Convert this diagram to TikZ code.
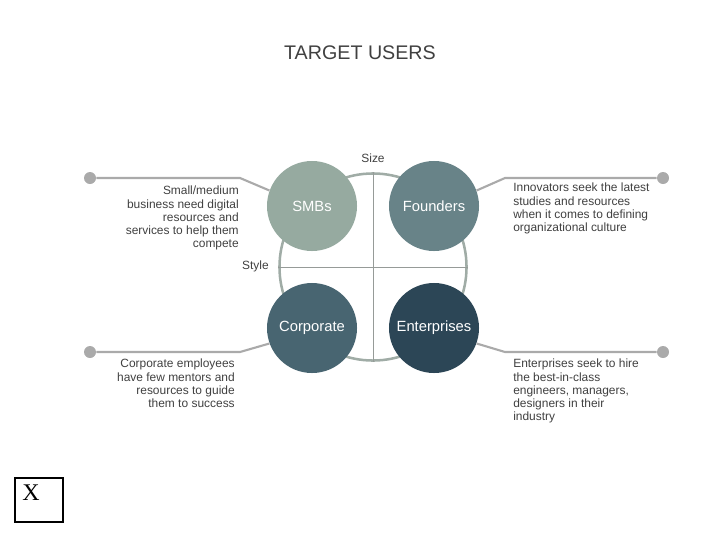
\documentclass[tikz,border=0pt]{standalone}
\usepackage{fontspec}
\setmainfont{Liberation Sans}
\newfontfamily\xserif{Liberation Serif}
\definecolor{txtgray}{RGB}{64,64,64}
\definecolor{ringgray}{RGB}{160,172,166}
\definecolor{linegray}{RGB}{170,170,170}
\definecolor{crossgray}{RGB}{150,155,152}
\definecolor{smbcol}{RGB}{150,170,160}
\definecolor{fndcol}{RGB}{104,131,136}
\definecolor{corpcol}{RGB}{72,101,113}
\definecolor{entcol}{RGB}{44,70,86}
\begin{document}
\begin{tikzpicture}[
  x=0.025cm, y=-0.025cm,
  user/.style={circle, minimum size=2.25cm, inner sep=0pt, text=white,
               font=\fontsize{10.5}{12}\selectfont},
  ring/.style={circle, draw=ringgray, line width=1.8pt, minimum size=4.675cm,
               inner sep=0pt},
  cross/.style={draw=crossgray, line width=0.7pt},
  link/.style={draw=linegray, line width=1.5pt},
  dot/.style={circle, fill=linegray, minimum size=0.3cm, inner sep=0pt},
  note/.style={font=\fontsize{8.5}{9.3}\selectfont, text=txtgray, inner sep=0pt},
  axis/.style={font=\fontsize{8.5}{10}\selectfont, text=txtgray, inner sep=0pt}
]
  \useasboundingbox (0,0) rectangle (720,540);

  \node[font=\fontsize{14}{16}\selectfont, text=txtgray] (title) at (360,53) {TARGET USERS};

  % quadrant ring and axes
  \node[ring] (ring) at (373,267) {};
  \draw[cross] (ring.north) -- (ring.south);
  \draw[cross] (ring.west) -- (ring.east);
  \node[axis] (size) at (373,158) {Size};
  \node[axis, anchor=east] (style) at (269,266) {Style};

  \node[user, fill=smbcol]  (smb)  at (312,206) {SMBs};
  \node[user, fill=fndcol]  (fnd)  at (434,206) {Founders};
  \node[user, fill=corpcol] (corp) at (312,328) {Corporate};
  \node[user, fill=entcol]  (ent)  at (434,328) {Enterprises};

  % callouts
  \node[dot] (dsmb)  at (90,178)  {};
  \node[dot] (dfnd)  at (663,178) {};
  \node[dot] (dcorp) at (90,352)  {};
  \node[dot] (dent)  at (663,352) {};
  \coordinate (bsmb)  at (240,178);
  \coordinate (bfnd)  at (505,178);
  \coordinate (bcorp) at (240,352);
  \coordinate (bent)  at (505,352);

  \draw[link] (dsmb) -- (bsmb) -- (smb.160);
  \draw[link] (dfnd) -- (bfnd) -- (fnd.20);
  \draw[link] (dcorp) -- (bcorp) -- (corp.200);
  \draw[link] (dent) -- (bent) -- (ent.340);

  \node[note, anchor=north east, align=right] (nsmb) at (239,186)
    {Small/medium\\ business need digital\\ resources and\\ services to help them\\ compete};
  \node[note, anchor=north west, align=left] (nfnd) at (513,183)
    {Innovators seek the latest\\ studies and resources\\ when it comes to defining\\ organizational culture};
  \node[note, anchor=north east, align=right] (ncorp) at (235,359)
    {Corporate employees\\ have few mentors and\\ resources to guide\\ them to success};
  \node[note, anchor=north west, align=left] (nent) at (513,359)
    {Enterprises seek to hire\\ the best-in-class\\ engineers, managers,\\ designers in their\\ industry};

  \node[draw=black, line width=1.2pt, minimum width=1.2cm, minimum height=1.1cm,
        inner sep=0pt] (xbox) at (39,500) {};
  \node[font=\xserif\fontsize{17}{18}\selectfont, inner sep=0pt] (xmark) at (31,493) {X};
\end{tikzpicture}
\end{document}
